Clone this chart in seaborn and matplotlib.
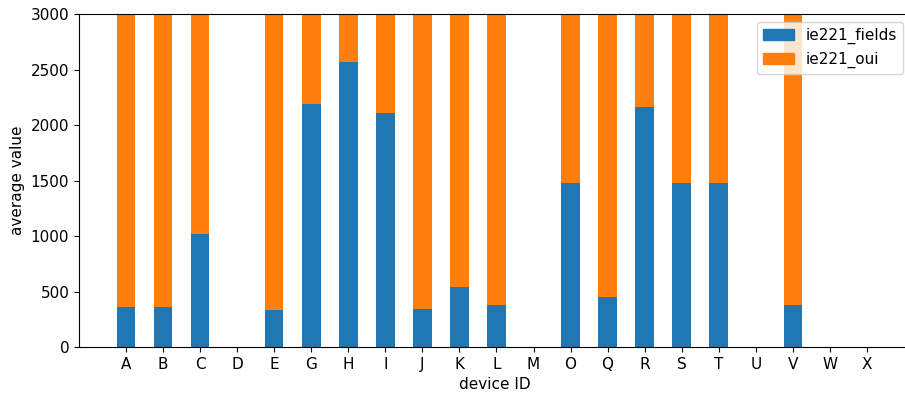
import matplotlib
matplotlib.use("Agg")
import matplotlib.pyplot as plt
import matplotlib.patches as mpatches
import pandas as pd
import seaborn as sns

devices = ["A", "B", "C", "D", "E", "G", "H", "I", "J", "K", "L",
           "M", "O", "Q", "R", "S", "T", "U", "V", "W", "X"]
ie221_fields = [357, 357, 1015, 0, 335, 2185, 2565, 2105, 345, 543, 376,
                0, 1480, 453, 2165, 1480, 1480, 0, 376, 0, 0]
ie221_oui = [4200, 4200, 3600, 0, 4250, 2700, 2400, 2750, 4230, 3900, 4150,
             0, 3100, 4100, 2700, 3100, 3100, 0, 4150, 0, 0]

df = pd.DataFrame({"device": devices,
                   "fields": ie221_fields,
                   "oui": ie221_oui})
df["total"] = df["fields"] + df["oui"]

blue = "#1f77b4"
orange = "#ff7f0e"

plt.rcParams["font.size"] = 11

fig = plt.figure(figsize=(9.05, 3.96), dpi=100)
ax = fig.add_axes([0.0873, 0.1237, 0.9193, 0.8409])

# stacked bars: the total in orange underneath, the fields share in blue on top
sns.barplot(data=df, x="device", y="total", color=orange, width=0.5,
            saturation=1, ax=ax, order=devices)
sns.barplot(data=df, x="device", y="fields", color=blue, width=0.5,
            saturation=1, ax=ax, order=devices)

ax.set_ylim(0, 3000)
ax.set_xlim(-1.27, 21.19)
ax.set_xlabel("device ID")
ax.set_ylabel("average value")

handles = [mpatches.Patch(color=blue, label="ie221_fields"),
           mpatches.Patch(color=orange, label="ie221_oui")]
ax.legend(handles=handles, loc="upper right")

fig.savefig("out.png", dpi=100)
